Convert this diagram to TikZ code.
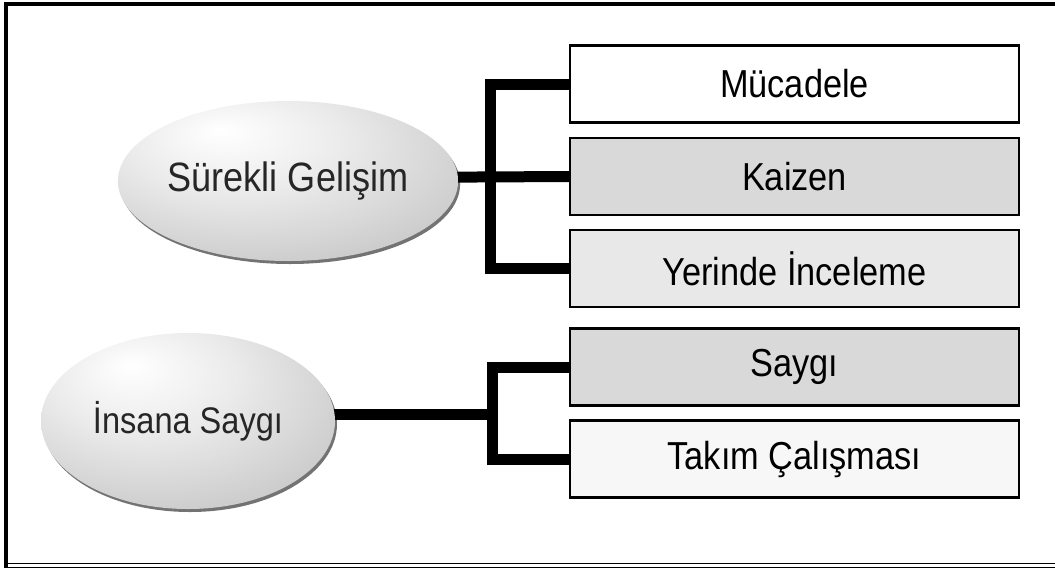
\documentclass[tikz,border=0pt]{standalone}
\usepackage{fontspec}
\setmainfont[FakeStretch=0.88]{Liberation Sans}
\usetikzlibrary{shapes.geometric,shadows}
\pgfdeclareradialshading{ellshade}{\pgfpoint{-10bp}{16bp}}{%
  color(0bp)=(white);
  color(16bp)=(white!92!black);
  color(36bp)=(white!79!black);
  color(50bp)=(white!62!black);
  color(70bp)=(white!45!black)}
\definecolor{boxgray}{gray}{0.85}
\definecolor{boxlight}{gray}{0.91}
\definecolor{ink}{gray}{0.15}
\tikzset{
  ell/.style={ellipse, shading=ellshade, inner sep=0pt, outer sep=0pt,
    text=ink, font=\fontsize{39}{44}\selectfont,
    drop shadow={shadow xshift=2pt, shadow yshift=-3pt, opacity=0.55, fill=black}},
  itembox/.style={rectangle, draw=black, line width=2.5pt, minimum width=449pt,
    minimum height=77pt, inner sep=0pt, outer sep=0pt, text=black,
    font=\fontsize{39}{44}\selectfont},
  conn/.style={line width=11pt, black, line join=miter, line cap=butt},
  frameline/.style={black, line width=3.5pt}
}
\begin{document}
\begin{tikzpicture}[x=1pt, y=-1pt]
\useasboundingbox (0,0) rectangle (1055,574);
% frame
\draw[frameline] (1055,4) -- (6,4) -- (6,568);
\draw[black, line width=1.6pt] (6,563.5) -- (1055,563.5);
\draw[black, line width=1.6pt] (6,567.5) -- (1055,567.5);
% boxes
\node[itembox, fill=white]    (b1) at (794.5,84)    {Mücadele};
\node[itembox, fill=boxgray]  (b2) at (794.5,176.5) {Kaizen};
\node[itembox, fill=boxlight] (b3) at (794.5,268.5) {Yerinde İnceleme};
\node[itembox, fill=boxgray]  (b4) at (794.5,367)   {Saygı};
\node[itembox, fill=white!97!black] (b5) at (794.5,459) {Takım Çalışması};
% junction coordinates
\coordinate (j1) at (490.5,0);
\coordinate (j2) at (492,414);
% ellipse centres for connectors
\coordinate (c1) at (288,178);
\coordinate (c2) at (188,414);
% connectors (under the ellipses)
\draw[conn] (c1) -- (b2.west);
\draw[conn] (b1.west) -- (b1.west -| j1) -- (b3.west -| j1) -- (b3.west);
\draw[conn] (c2) -- (j2);
\draw[conn] (b4.west) -- (b4.west -| j2) -- (b5.west -| j2) -- (b5.west);
% ellipses
\node[ell, minimum width=310pt, minimum height=160pt, font=\fontsize{41}{46}\selectfont] (e1) at (288,181) {Sürekli Gelişim};
\node[ell, minimum width=294pt, minimum height=176pt, font=\fontsize{37}{42}\selectfont] (e2) at (188,421) {İnsana Saygı};
\end{tikzpicture}
\end{document}
